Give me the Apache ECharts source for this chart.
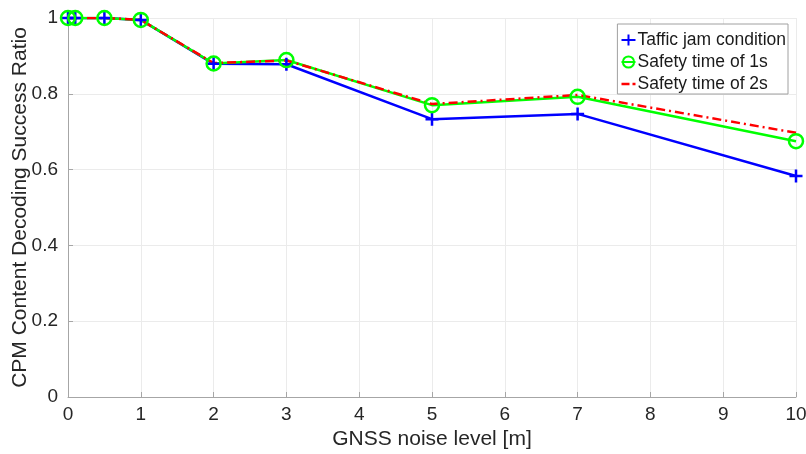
<!DOCTYPE html>
<html>
<head>
<meta charset="utf-8">
<script src="https://cdn.jsdelivr.net/npm/echarts@6/dist/echarts.min.js"></script>
<style>
  html, body { margin: 0; padding: 0; background: #fff; }
  #main { width: 806px; height: 454px; }
</style>
</head>
<body>
<div id="main"></div>
<script>
var noiseLevels = [0, 0.1, 0.5, 1, 2, 3, 5, 7, 10];
var trafficJam = [1, 1, 1, 0.995, 0.879, 0.878, 0.733, 0.747, 0.583];
var safety1s = [1, 1, 1, 0.995, 0.880, 0.889, 0.770, 0.792, 0.675];
var safety2s = [1, 1, 1, 0.995, 0.881, 0.888, 0.773, 0.797, 0.697];
var xTicks = [0, 1, 2, 3, 4, 5, 6, 7, 8, 9, 10];
var yTicks = [0, 0.2, 0.4, 0.6, 0.8, 1];

var pair = function (xs, ys) {
    return xs.map(function (x, i) { return [x, ys[i]]; });
};

var font = '"Liberation Sans", Arial, sans-serif';
// dash + dot glyph for the dash-dot legend entry
var dashDotIcon = 'path://M0,0 h8 v2.6 h-8 Z M11,0 h3 v2.6 h-3 Z';

var chart = echarts.init(document.getElementById('main'));
chart.setOption({
    animation: false,
    backgroundColor: '#fff',
    grid: { left: 68, right: 10, top: 18, bottom: 57, containLabel: false, outerBoundsMode: 'none' },
    legend: {
        right: 18,
        top: 24,
        orient: 'vertical',
        itemGap: 4,
        itemWidth: 14,
        itemHeight: 14,
        padding: [7, 2, 1, 3],
        backgroundColor: '#fff',
        borderColor: '#a0a0a0',
        borderWidth: 1,
        textStyle: { fontFamily: font, fontSize: 17.5, lineHeight: 16, color: '#1a1a1a', padding: [0, 0, 0, -3] },
        data: [
            { name: 'Taffic jam condition' },
            { name: 'Safety time of 1s' },
            { name: 'Safety time of 2s', icon: dashDotIcon }
        ]
    },
    xAxis: {
        type: 'value',
        min: xTicks[0],
        max: xTicks[xTicks.length - 1],
        interval: 1,
        name: 'GNSS noise level [m]',
        nameLocation: 'middle',
        nameGap: 31,
        nameTextStyle: { fontFamily: font, fontSize: 21, color: '#262626' },
        axisLine: { lineStyle: { color: '#a6a6a6', width: 1 } },
        axisTick: { inside: true, length: 5, lineStyle: { color: '#a6a6a6' } },
        axisLabel: { fontFamily: font, fontSize: 19, color: '#262626', margin: 8 },
        splitLine: { show: true, lineStyle: { color: '#ebebeb', width: 1 } }
    },
    yAxis: {
        type: 'value',
        min: yTicks[0],
        max: yTicks[yTicks.length - 1],
        interval: 0.2,
        name: 'CPM Content Decoding Success Ratio',
        nameLocation: 'middle',
        nameGap: 37,
        nameMoveOverlap: false,
        nameTextStyle: { fontFamily: font, fontSize: 21, color: '#262626' },
        axisLine: { show: true, lineStyle: { color: '#a6a6a6', width: 1 } },
        axisTick: { show: true, inside: true, length: 5, lineStyle: { color: '#a6a6a6' } },
        axisLabel: { fontFamily: font, fontSize: 19, color: '#262626', margin: 10 },
        splitLine: { show: true, lineStyle: { color: '#ebebeb', width: 1 } }
    },
    series: [
        {
            name: 'Taffic jam condition',
            type: 'line',
            data: pair(noiseLevels, trafficJam),
            symbol: 'path://M5,0 L5,10 M0,5 L10,5',
            symbolSize: 13,
            showAllSymbol: true,
            lineStyle: { color: '#0000ff', width: 2.5 },
            itemStyle: { color: 'none', borderColor: '#0000ff', borderWidth: 2.5 }
        },
        {
            name: 'Safety time of 1s',
            type: 'line',
            data: pair(noiseLevels, safety1s),
            symbol: 'circle',
            symbolSize: 14,
            showAllSymbol: true,
            lineStyle: { color: '#00ff00', width: 2.5 },
            itemStyle: { color: 'rgba(0,0,0,0)', borderColor: '#00ff00', borderWidth: 2.5 }
        },
        {
            name: 'Safety time of 2s',
            type: 'line',
            data: pair(noiseLevels, safety2s),
            symbol: 'none',
            lineStyle: { color: '#ff0000', width: 2.5, type: [9, 4, 2, 4] },
            itemStyle: { color: '#ff0000' }
        }
    ]
});
</script>
</body>
</html>
